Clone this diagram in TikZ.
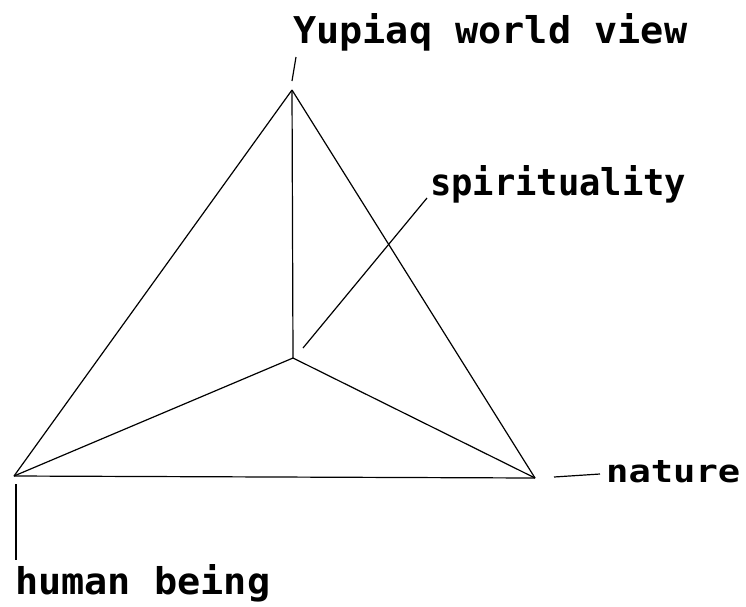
\documentclass[tikz,border=0pt]{standalone}
\usepackage{fontspec}
\newfontfamily\lblfont{DejaVu Sans Mono}
\begin{document}
\begin{tikzpicture}[x=1pt,y=-1pt,
  edge/.style={draw=black,line width=1.2pt},
  leader/.style={draw=black,line width=1.2pt},
  lbl/.style={inner sep=0pt,anchor=west,font=\lblfont\bfseries}]
\useasboundingbox (0,0) rectangle (746,606);
% vertices
\coordinate (T) at (292,90);
\coordinate (C) at (293,358);
\coordinate (L) at (14,476);
\coordinate (R) at (535,478);
% edges
\draw[edge] (T) -- (L);
\draw[edge] (T) -- (R);
\draw[edge] (T) -- (C);
\draw[edge] (C) -- (L);
\draw[edge] (C) -- (R);
\draw[edge] (L) -- (R);
% labels
\node[lbl] (yup) at (293,32) {\resizebox{394pt}{30pt}{Yupiaq world view}};
\node[lbl] (spi) at (430,184) {\resizebox{256pt}{30pt}{spirituality}};
\node[lbl] (nat) at (606,472) {\resizebox{134pt}{22pt}{nature}};
\node[lbl] (hum) at (15,583) {\resizebox{255pt}{30pt}{human being}};
% leader lines
\coordinate (yA) at (292,81);
\coordinate (yB) at (296,57);
\draw[leader] (yA) -- (yB);
\coordinate (sA) at (303,348);
\coordinate (sB) at (427,198);
\draw[leader] (sA) -- (sB);
\coordinate (nA) at (554,477);
\coordinate (nB) at (600,474);
\draw[leader] (nA) -- (nB);
\coordinate (hA) at (16,484);
\coordinate (hB) at (16,560);
\draw[leader] (hA) -- (hB);
\end{tikzpicture}
\end{document}
